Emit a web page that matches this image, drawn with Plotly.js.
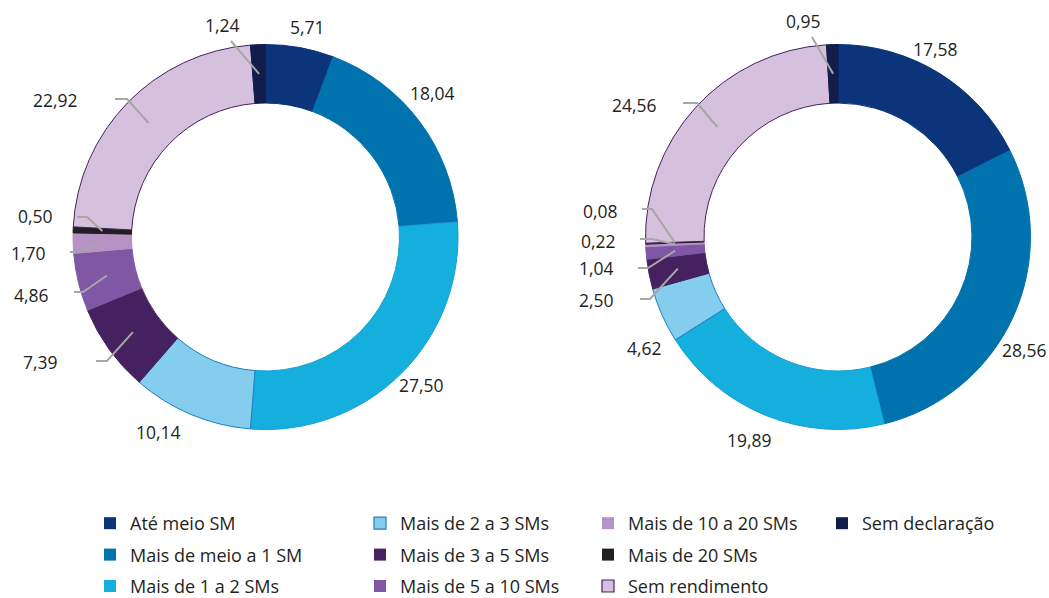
<!DOCTYPE html>
<html><head><meta charset="utf-8">
<script src="https://cdn.plot.ly/plotly-3.0.1.min.js"></script>
<style>html,body{margin:0;padding:0;background:#fff}#chart{width:1049px;height:598px}</style>
</head><body><div id="chart"></div>
<script>
// ---------- data ----------
const categories = ["Até meio SM", "Mais de meio a 1 SM", "Mais de 1 a 2 SMs", "Mais de 2 a 3 SMs",
  "Mais de 3 a 5 SMs", "Mais de 5 a 10 SMs", "Mais de 10 a 20 SMs", "Mais de 20 SMs",
  "Sem rendimento", "Sem declaração"];
const valuesLeft  = [5.71, 18.04, 27.50, 10.14, 7.39, 4.86, 1.70, 0.50, 22.92, 1.24];
const valuesRight = [17.58, 28.56, 19.89, 4.62, 2.50, 1.04, 0.22, 0.08, 24.56, 0.95];

// ---------- styles ----------
const colors = ["#0b347a", "#0072ae", "#14afdc", "#84cdee", "#45225f", "#7f57a4", "#b692c5", "#231f20", "#d5c1de", "#131d4b"];
const borderColors = ["#0b347a", "#0072ae", "#1a9ed3", "#1f7fc0", "#45225f", "#7f57a4", "#b692c5", "#231f20", "#45225f", "#131d4b"];
const legendColumn = [0, 0, 0, 1, 1, 1, 2, 2, 2, 3];

// ---------- layout geometry (pixels) ----------
const W = 1049, H = 598;
const R_OUT = 192.5, HOLE = 0.696;
const FONT = "'Open Sans', 'Noto Sans', sans-serif";
const TEXT = "#231f20";
// label placement (text centres) and leader-line elbows [x0, y, x1]
const leftLabelPos  = [[307,27],[432,93],[421,385],[158,432],[40,362],[31,295],[28,253],[35,216],[55,100],[222,25]];
const leftElbows    = [null,null,null,null,[96,361,107],[74,292,83],[70,252,79],[77,217,87],[115,99,127],[231,41,231]];
const rightLabelPos = [[935,49],[1024,350],[749,440],[644,348],[596,300],[596,268],[598,241],[600,211],[634,105],[803,21]];
const rightElbows   = [null,null,null,null,[640,299,650],[638,268,648],[640,239,652],[642,209,652],[683,103,697],[812,37,812]];

const donuts = [
  {values: valuesLeft,  cx: 265.5, cy: 237, labelPos: leftLabelPos,  elbows: leftElbows},
  {values: valuesRight, cx: 838,   cy: 237, labelPos: rightLabelPos, elbows: rightElbows}
];

const legendTextX = [130, 400, 628, 862];
const legendTopY = 505;

const fmt = v => v.toFixed(2).replace('.', ',');

const traces = [];
const annotations = [];
const shapes = [];
const rMid = (R_OUT + R_OUT * HOLE) / 2;

donuts.forEach((d, k) => {
  traces.push({
    type: 'pie', labels: categories, values: d.values, sort: false, direction: 'clockwise', rotation: 0,
    hole: HOLE, textinfo: 'none', hoverinfo: 'label+value', showlegend: false,
    marker: {colors: colors, line: {color: borderColors, width: 1}},
    domain: {x: [(d.cx - R_OUT) / W, (d.cx + R_OUT) / W], y: [1 - (d.cy + R_OUT) / H, 1 - (d.cy - R_OUT) / H]}
  });
  const total = d.values.reduce((a, b) => a + b, 0);
  let cum = 0;
  d.values.forEach((v, i) => {
    const mid = (cum + v / 2) / total;
    cum += v;
    const ang = mid * 2 * Math.PI;
    const ax = d.cx + rMid * Math.sin(ang), ay = d.cy - rMid * Math.cos(ang);
    annotations.push({xref: 'x', yref: 'y', x: d.labelPos[i][0], y: d.labelPos[i][1], text: fmt(v),
      showarrow: false, xanchor: 'center', yanchor: 'middle', font: {family: FONT, size: 17.5, color: TEXT}});
    const e = d.elbows[i];
    if (e) {
      shapes.push({type: 'path', xref: 'x', yref: 'y', layer: 'above',
        path: `M${e[0]},${e[1]} L${e[2]},${e[1]} L${ax.toFixed(1)},${ay.toFixed(1)}`,
        line: {color: '#a6a6a6', width: 2}});
    }
  });
});

// legend entries (4 columns as 4 legends)
const legendNames = ['legend', 'legend2', 'legend3', 'legend4'];
categories.forEach((c, i) => {
  traces.push({
    type: 'scatter', mode: 'markers', x: [null], y: [null], name: c, legend: legendNames[legendColumn[i]],
    legendgroup: c, hoverinfo: 'skip',
    marker: {symbol: 'square', size: 12, color: colors[i], line: {color: borderColors[i], width: (i === 3 || i === 8) ? 1.2 : 0}}
  });
});

const layout = {
  width: W, height: H, margin: {l: 0, r: 0, t: 0, b: 0, autoexpand: false},
  paper_bgcolor: '#fff', plot_bgcolor: '#fff',
  xaxis: {range: [0, W], visible: false, fixedrange: true},
  yaxis: {range: [H, 0], visible: false, fixedrange: true},
  annotations: annotations, shapes: shapes, showlegend: true
};
legendNames.forEach((n, j) => {
  layout[n] = {x: (legendTextX[j] - 40) / W, xanchor: 'left', y: 1 - legendTopY / H, yanchor: 'top',
    orientation: 'v', bgcolor: 'rgba(0,0,0,0)', borderwidth: 0, tracegroupgap: 5,
    font: {family: FONT, size: 18, color: TEXT}};
});

Plotly.newPlot('chart', traces, layout, {displayModeBar: false, staticPlot: true});
</script></body></html>
